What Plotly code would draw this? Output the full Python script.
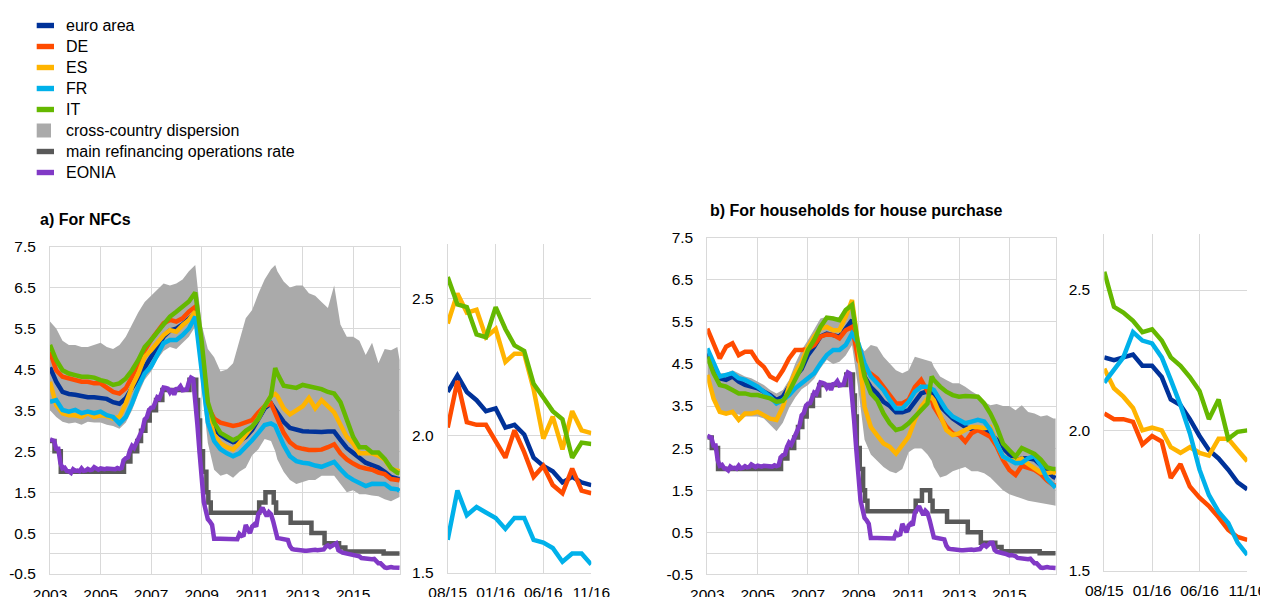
import plotly.graph_objects as go

W, H = 1268, 597
OFF = 8                    # the page body adds an 8 px margin around the figure
FW, FH = W - OFF, H - OFF  # figure size so that it fills the window exactly

# ---------------- data ----------------
# main panels: quarterly observations (Jan/Apr/Jul/Oct) plus Dec-2011 and Nov-2016
main_dates = []
for yr in range(2003, 2017):
    for mo in (1, 4, 7, 10):
        main_dates.append(f"{yr}-{mo:02d}-01")
        if yr == 2011 and mo == 10:
            main_dates.append("2011-12-01")
main_dates.append("2016-11-01")

# a) NFCs
ea_a = [4.55, 4.2, 3.95, 3.9,  3.88, 3.85, 3.82, 3.82,  3.8, 3.78, 3.7, 3.66,
        3.8, 4.05, 4.3, 4.55,  4.8, 5.05, 5.3, 5.45,  5.5, 5.6, 5.75, 5.88,
        4.8, 3.5, 3.05, 2.9,  2.8, 2.72, 2.75, 2.85,  3.02, 3.3, 3.55, 3.67, 3.52,
        3.45, 3.22, 3.07, 3.02,  2.99, 2.98, 2.97, 2.97,  2.98, 2.98, 2.78, 2.58,
        2.46, 2.35, 2.22, 2.16,  2.10, 2.0, 1.87, 1.83, 1.82]
de_a = [4.93, 4.48, 4.32, 4.28,  4.24, 4.2, 4.2, 4.16,  4.16, 4.04, 3.95, 3.91,
        4.04, 4.32, 4.65, 4.97,  5.22, 5.42, 5.63, 5.71,  5.67, 5.75, 5.91, 6.03,
        5.0, 3.6, 3.3, 3.2,  3.15, 3.12, 3.15, 3.2,  3.26, 3.45, 3.6, 3.67, 3.43,
        3.3, 2.95, 2.72, 2.6,  2.56, 2.53, 2.53, 2.54,  2.6, 2.67, 2.45, 2.3,
        2.2, 2.12, 2.08, 2.05,  1.98, 1.94, 1.82, 1.80, 1.79]
es_a = [4.2, 3.63, 3.43, 3.38,  3.38, 3.34, 3.43, 3.34,  3.38, 3.36, 3.3, 3.34,
        3.67, 4.08, 4.4, 4.81,  4.97, 5.14, 5.34, 5.46,  5.42, 5.58, 5.71, 5.91,
        4.7, 3.45, 2.9, 2.7,  2.6, 2.54, 2.7, 2.9,  3.07, 3.3, 3.6, 3.85, 3.9,
        3.85, 3.55, 3.4, 3.5,  3.6, 3.8, 3.55, 3.75,  3.6, 3.45, 3.15, 2.85,
        2.69, 2.45, 2.45, 2.45,  2.39, 2.30, 2.07, 2.02, 2.01]
fr_a = [3.71, 3.75, 3.51, 3.47,  3.51, 3.43, 3.47, 3.43,  3.47, 3.38, 3.34, 3.18,
        3.34, 3.67, 4.08, 4.4,  4.57, 4.85, 5.14, 5.22,  5.22, 5.34, 5.5, 5.79,
        4.5, 3.2, 2.75, 2.55,  2.45, 2.38, 2.45, 2.6,  2.77, 2.95, 3.14, 3.18, 3.12,
        3.0, 2.65, 2.38, 2.26,  2.22, 2.2, 2.15, 2.12,  2.18, 2.24, 2.06, 1.9,
        1.8, 1.72, 1.65, 1.705,  1.70, 1.70, 1.59, 1.57, 1.53]
it_a = [5.1, 4.73, 4.48, 4.4,  4.36, 4.32, 4.32, 4.3,  4.24, 4.2, 4.12, 4.16,
        4.28, 4.48, 4.73, 5.05,  5.22, 5.42, 5.63, 5.79,  5.91, 6.03, 6.16, 6.38,
        5.2, 3.7, 3.2, 2.95,  2.85, 2.77, 2.85, 3.0,  3.1, 3.3, 3.6, 3.85, 4.53,
        4.4, 4.1, 4.08, 4.05,  4.12, 4.09, 4.07, 4.02,  3.95, 3.91, 3.7, 3.25,
        2.85, 2.6, 2.6, 2.47,  2.47, 2.31, 2.09, 1.975, 1.97]
disp_hi_a = [5.67, 5.5, 5.2, 5.1,  5.1, 5.05, 5.05, 5.1,  5.15, 5.05, 5.0, 5.1,
             5.3, 5.6, 5.9, 6.15,  6.3, 6.45, 6.6, 6.55,  6.6, 6.7, 6.9, 7.05,
             5.6, 5.0, 4.8, 4.45,  4.5, 4.65, 5.2, 5.75,  5.95, 6.35, 6.7, 6.95, 7.05,
             6.9, 6.65, 6.5, 6.55,  6.55, 6.36, 6.3, 6.15,  6.0, 6.55, 5.6, 5.3,
             5.3, 5.2, 4.85, 5.15,  4.65, 5.0, 4.97, 5.05, 4.73]
disp_lo_a = [3.5, 3.34, 3.22, 3.18,  3.2, 3.15, 3.22, 3.2,  3.2, 3.15, 3.12, 3.05,
             3.2, 3.5, 3.9, 4.25,  4.45, 4.75, 4.95, 5.05,  5.0, 5.15, 5.3, 5.55,
             4.2, 2.7, 2.05, 1.9,  1.95, 1.85, 2.0, 2.1,  2.4, 2.55, 2.8, 2.75, 2.5,
             2.3, 2.0, 1.8, 1.7,  1.75, 1.8, 1.8, 1.9,  1.9, 1.9, 1.7, 1.5,
             1.55, 1.45, 1.45, 1.42,  1.4, 1.33, 1.28, 1.35, 1.38]

# b) households for house purchase
ea_b = [4.75, 4.43, 4.16, 4.12,  4.2, 4.08, 4.0, 3.96,  3.92, 3.84, 3.76, 3.64,
        3.72, 3.96, 4.2, 4.38,  4.71, 4.91, 5.15, 5.22,  5.19, 5.15, 5.34, 5.54,
        4.8, 4.2, 3.95, 3.8,  3.6, 3.5, 3.35, 3.35,  3.4, 3.6, 3.8, 3.85, 3.8,
        3.7, 3.5, 3.35, 3.2,  3.1, 3.0, 2.95, 2.95,  2.95, 2.85, 2.7, 2.5,
        2.35, 2.2, 2.25, 2.26,  2.23, 2.09, 1.93, 1.815, 1.79]
de_b = [5.34, 4.95, 4.63, 4.91,  4.99, 4.71, 4.79, 4.79,  4.56, 4.43, 4.2, 4.12,
        4.35, 4.63, 4.83, 4.83,  4.85, 4.95, 5.15, 5.2,  5.19, 5.11, 5.3, 5.38,
        4.59, 4.35, 4.27, 4.15,  3.95, 3.76, 3.56, 3.56,  3.65, 3.95, 4.12, 3.85, 3.65,
        3.48, 3.25, 3.01, 2.85,  2.81, 2.65, 2.85, 2.93,  2.85, 2.77, 2.54, 2.22,
        1.98, 1.86, 2.08, 2.04,  1.98, 1.88, 1.73, 1.62, 1.61]
es_b = [4.24, 3.68, 3.36, 3.32,  3.36, 3.17, 3.32, 3.32,  3.36, 3.28, 3.2, 3.17,
        3.48, 3.96, 4.3, 4.55,  4.91, 5.15, 5.34, 5.38,  5.3, 5.3, 5.62, 6.02,
        4.91, 3.48, 3.0, 2.8,  2.61, 2.53, 2.37, 2.57,  2.77, 3.17, 3.48, 3.68, 3.7,
        3.64, 3.25, 2.93, 2.81,  2.85, 2.93, 3.0, 3.0,  2.97, 3.0, 2.61, 2.3,
        2.22, 2.2, 2.25, 2.12,  2.01, 1.92, 1.91, 1.93, 1.89]
fr_b = [4.87, 4.55, 4.2, 4.24,  4.28, 4.16, 4.12, 4.04,  3.96, 3.84, 3.72, 3.56,
        3.64, 3.76, 3.92, 4.04,  4.16, 4.28, 4.51, 4.71,  4.83, 4.83, 4.95, 5.22,
        4.99, 4.51, 4.2, 4.04,  3.88, 3.64, 3.44, 3.44,  3.6, 3.84, 3.96, 3.96, 3.92,
        3.88, 3.64, 3.4, 3.25,  3.17, 3.09, 3.13, 3.17,  3.13, 2.93, 2.61, 2.3,
        2.22, 2.14, 2.15, 2.26,  2.31, 2.09, 1.77, 1.6, 1.56]
it_b = [4.67, 4.28, 4.0, 3.96,  3.88, 3.8, 3.8, 3.76,  3.76, 3.72, 3.68, 3.6,
        3.62, 3.84, 4.16, 4.43,  4.83, 5.07, 5.38, 5.6,  5.58, 5.54, 5.78, 5.9,
        4.91, 4.2, 3.8, 3.64,  3.32, 3.09, 2.93, 2.97,  3.09, 3.25, 3.4, 3.56, 4.2,
        4.12, 3.96, 3.84, 3.76,  3.72, 3.74, 3.72, 3.72,  3.56, 3.32, 3.01, 2.61,
        2.45, 2.3, 2.5, 2.42,  2.36, 2.23, 2.04, 2.0, 2.0]
disp_hi_b = [4.75, 4.51, 4.28, 4.28,  4.35, 4.28, 4.2, 4.16,  4.08, 4.0, 3.88, 3.8,
             3.88, 4.12, 4.51, 4.83,  5.07, 5.31, 5.58, 5.62,  5.62, 5.6, 5.78, 6.02,
             4.99, 4.8, 4.95, 4.91,  4.67, 4.51, 4.35, 4.28,  4.35, 4.67, 4.63, 4.59, 4.55,
             4.43, 4.2, 4.12, 4.04,  4.04, 3.96, 3.85, 3.76,  3.6, 3.52, 3.55, 3.5,
             3.5, 3.4, 3.52, 3.36,  3.32, 3.25, 3.28, 3.2, 3.2]
disp_lo_b = [4.1, 3.7, 3.4, 3.3,  3.3, 3.3, 3.25, 3.25,  3.25, 3.2, 3.05, 2.9,
             3.1, 3.45, 3.7, 3.9,  4.0, 4.15, 4.4, 4.6,  4.5, 4.55, 4.7, 4.95,
             3.9, 2.7, 2.35, 2.2,  2.05, 1.95, 1.9, 2.0,  2.4, 2.5, 2.5, 2.35, 2.2,
             2.05, 1.8, 1.85, 1.95,  2.0, 2.05, 1.95, 1.95,  1.9, 1.8, 1.65, 1.5,
             1.4, 1.35, 1.3, 1.25,  1.22, 1.2, 1.17, 1.14, 1.13]

# main refinancing operations rate (date of change, new level)
mro_dates = ["2003-01-01", "2003-03-07", "2003-06-06", "2005-12-06", "2006-03-08",
             "2006-06-15", "2006-08-09", "2006-10-11", "2006-12-13", "2007-03-14",
             "2007-06-13", "2008-07-09", "2008-10-15", "2008-11-12", "2008-12-10",
             "2009-01-21", "2009-03-11", "2009-04-08", "2009-05-13", "2011-04-13",
             "2011-07-13", "2011-11-09", "2011-12-14", "2012-07-11", "2013-05-08",
             "2013-11-13", "2014-06-11", "2014-09-10", "2016-03-16", "2016-11-01"]
mro_rate = [2.75, 2.5, 2.0, 2.25, 2.5, 2.75, 3.0, 3.25, 3.5, 3.75,
            4.0, 4.25, 3.75, 3.25, 2.5, 2.0, 1.5, 1.25, 1.0, 1.25,
            1.5, 1.25, 1.0, 0.75, 0.5, 0.25, 0.15, 0.05, 0.0, 0.0]

# EONIA, monthly Jan-2003 .. Nov-2016
eonia_dates = [f"{yr}-{mo:02d}-01" for yr in range(2003, 2017) for mo in range(1, 13)][:167]
eonia = [2.79, 2.76, 2.75, 2.56, 2.56, 2.21, 2.08, 2.10, 2.02, 2.01, 1.97, 2.06,
         2.02, 2.03, 2.01, 2.08, 2.02, 2.03, 2.07, 2.04, 2.05, 2.11, 2.09, 2.05,
         2.08, 2.06, 2.06, 2.08, 2.07, 2.06, 2.07, 2.06, 2.09, 2.07, 2.09, 2.28,
         2.33, 2.35, 2.52, 2.63, 2.58, 2.70, 2.81, 2.97, 3.04, 3.28, 3.33, 3.50,
         3.56, 3.57, 3.69, 3.82, 3.79, 3.96, 4.06, 4.05, 4.03, 3.94, 4.02, 3.88,
         4.02, 4.03, 4.09, 3.99, 4.01, 4.01, 4.19, 4.30, 4.27, 3.82, 3.15, 2.49,
         1.81, 1.26, 1.06, 0.84, 0.78, 0.70, 0.36, 0.35, 0.36, 0.36, 0.36, 0.35,
         0.34, 0.34, 0.35, 0.35, 0.34, 0.35, 0.48, 0.43, 0.45, 0.70, 0.59, 0.50,
         0.66, 0.71, 0.66, 0.97, 1.03, 1.12, 1.01, 0.91, 1.01, 0.96, 0.79, 0.63,
         0.38, 0.37, 0.36, 0.35, 0.34, 0.33, 0.18, 0.11, 0.10, 0.09, 0.08, 0.07,
         0.07, 0.07, 0.07, 0.08, 0.08, 0.09, 0.09, 0.08, 0.08, 0.09, 0.10, 0.17,
         0.20, 0.16, 0.19, 0.25, 0.25, 0.08, 0.04, 0.02, 0.01, 0.00, -0.01, -0.03,
         -0.05, -0.04, -0.05, -0.07, -0.11, -0.12, -0.12, -0.12, -0.14, -0.14, -0.13, -0.20,
         -0.24, -0.24, -0.29, -0.34, -0.35, -0.33, -0.33, -0.34, -0.34, -0.35, -0.35]

# zoomed panels: monthly Aug-2015 .. Nov-2016
zoom_dates = [f"{yr}-{mo:02d}-01" for yr, mo in
              [(2015, 8), (2015, 9), (2015, 10), (2015, 11), (2015, 12)] +
              [(2016, m) for m in range(1, 12)]]
zoom_ticks = ["2015-08-01", "2016-01-01", "2016-06-01", "2016-11-01"]
zoom_ticktext = ["08/15", "01/16", "06/16", "11/16"]

ea_za = [2.16, 2.22, 2.16, 2.13, 2.09, 2.10, 2.03, 2.04, 2.005, 1.92, 1.89, 1.87, 1.83, 1.85, 1.83, 1.82]
de_za = [2.03, 2.20, 2.05, 2.04, 2.04, 1.98, 1.92, 2.02, 1.94, 1.85, 1.89, 1.82, 1.79, 1.88, 1.80, 1.79]
es_za = [2.41, 2.52, 2.45, 2.46, 2.36, 2.39, 2.27, 2.30, 2.30, 2.17, 1.99, 2.07, 1.95, 2.09, 2.02, 2.01]
fr_za = [1.62, 1.80, 1.71, 1.74, 1.72, 1.70, 1.66, 1.70, 1.70, 1.62, 1.61, 1.59, 1.54, 1.57, 1.57, 1.53]
it_za = [2.58, 2.48, 2.47, 2.37, 2.36, 2.47, 2.39, 2.33, 2.31, 2.19, 2.14, 2.09, 2.06, 1.92, 1.975, 1.97]

ea_zb = [2.26, 2.25, 2.26, 2.27, 2.23, 2.23, 2.19, 2.11, 2.09, 2.04, 1.98, 1.93, 1.90, 1.86, 1.815, 1.79]
de_zb = [2.06, 2.04, 2.04, 2.03, 1.95, 1.98, 1.96, 1.83, 1.88, 1.80, 1.76, 1.73, 1.69, 1.645, 1.62, 1.61]
es_zb = [2.22, 2.15, 2.12, 2.08, 2.00, 2.01, 2.00, 1.94, 1.92, 1.94, 1.92, 1.91, 1.97, 1.97, 1.93, 1.89]
fr_zb = [2.17, 2.215, 2.26, 2.35, 2.32, 2.31, 2.26, 2.18, 2.09, 1.99, 1.86, 1.77, 1.71, 1.67, 1.60, 1.556]
it_zb = [2.565, 2.44, 2.42, 2.39, 2.35, 2.36, 2.32, 2.26, 2.23, 2.19, 2.14, 2.04, 2.11, 1.97, 1.995, 2.0]

series_names = ["euro area", "DE", "ES", "FR", "IT"]
series_colors = ["#003299", "#FF4B00", "#FFB400", "#00B1EA", "#65B800"]
band_color = "#AAAAAA"
mro_color = "#595959"
eonia_color = "#8139C6"

main_y_ticks = [-0.5, 0.5, 1.5, 2.5, 3.5, 4.5, 5.5, 6.5, 7.5]
zoom_y_ticks = [1.5, 2.0, 2.5]

legend_labels = ["euro area", "DE", "ES", "FR", "IT", "cross-country dispersion",
                 "main refinancing operations rate", "EONIA"]
legend_colors = series_colors + [band_color, mro_color, eonia_color]

# ---------------- figure ----------------
FONT = "Arial, 'Liberation Sans', sans-serif"
GRID = "#D9D9D9"
LW = 4.5


def px(x):
    """window pixel x -> paper coordinate"""
    return (x - OFF) / FW


def py(y):
    """window pixel y (from top) -> paper coordinate"""
    return 1 - (y - OFF) / FH


fig = go.Figure()

panels = [
    dict(ax="", series=[ea_a, de_a, es_a, fr_a, it_a], hi=disp_hi_a, lo=disp_lo_a,
         zoom=[ea_za, de_za, es_za, fr_za, it_za]),
    dict(ax="3", series=[ea_b, de_b, es_b, fr_b, it_b], hi=disp_hi_b, lo=disp_lo_b,
         zoom=[ea_zb, de_zb, es_zb, fr_zb, it_zb]),
]
zoom_ax = {"": "2", "3": "4"}

for p in panels:
    xa, ya = "x" + p["ax"], "y" + p["ax"]
    fig.add_trace(go.Scatter(
        x=main_dates + main_dates[::-1], y=p["hi"] + p["lo"][::-1],
        fill="toself", fillcolor=band_color, line=dict(width=0), mode="lines",
        hoverinfo="skip", showlegend=False, xaxis=xa, yaxis=ya))
    fig.add_trace(go.Scatter(x=mro_dates, y=mro_rate, mode="lines", line_shape="hv",
                             line=dict(color=mro_color, width=LW), showlegend=False,
                             xaxis=xa, yaxis=ya))
    fig.add_trace(go.Scatter(x=eonia_dates, y=eonia, mode="lines",
                             line=dict(color=eonia_color, width=LW), showlegend=False,
                             xaxis=xa, yaxis=ya))
    for name, col, vals in zip(series_names, series_colors, p["series"]):
        fig.add_trace(go.Scatter(x=main_dates, y=vals, mode="lines", name=name,
                                 line=dict(color=col, width=LW), showlegend=False,
                                 xaxis=xa, yaxis=ya))
    zx, zy = "x" + zoom_ax[p["ax"]], "y" + zoom_ax[p["ax"]]
    for name, col, vals in zip(series_names, series_colors, p["zoom"]):
        fig.add_trace(go.Scatter(x=zoom_dates, y=vals, mode="lines", name=name,
                                 line=dict(color=col, width=LW), showlegend=False,
                                 xaxis=zx, yaxis=zy))

tickfont = dict(family=FONT, size=15.5, color="#000000")

common_x = dict(showgrid=True, gridcolor=GRID, gridwidth=1, ticks="", tickfont=tickfont,
                zeroline=False, fixedrange=True, ticklabelstandoff=6, automargin=False)
common_y = dict(showgrid=True, gridcolor=GRID, gridwidth=1, ticks="", tickfont=tickfont,
                fixedrange=True, ticklabelstandoff=10, automargin=False)

main_x = dict(common_x, type="date", range=["2003-01-01", "2016-11-08"],
              tickmode="linear", tick0="2003-01-01", dtick="M24", tickformat="%Y",
              showline=True, linecolor=GRID, mirror=True)
main_y = dict(common_y, range=[-0.5, 7.5], tickmode="array", tickvals=main_y_ticks,
              ticktext=[f"{v:.1f}" for v in main_y_ticks],
              zeroline=True, zerolinecolor=GRID, zerolinewidth=1,
              showline=True, linecolor=GRID, mirror=True)
zoom_x = dict(common_x, type="date", range=["2015-08-01", "2016-11-01"],
              tickmode="array", tickvals=zoom_ticks, ticktext=zoom_ticktext,
              showline=True, linecolor=GRID)
zoom_y = dict(common_y, range=[1.5, 2.7], tickmode="array", tickvals=zoom_y_ticks,
              ticktext=[f"{v:.1f}" for v in zoom_y_ticks], zeroline=False,
              showline=True, linecolor=GRID)

fig.update_layout(
    width=FW, height=FH, autosize=False,
    margin=dict(l=0, r=0, t=0, b=0, pad=0, autoexpand=False),
    paper_bgcolor="white", plot_bgcolor="white",
    font=dict(family=FONT, size=16, color="#000000"),
    showlegend=False,
    xaxis=dict(main_x, domain=[px(50), px(400)], anchor="y"),
    yaxis=dict(main_y, domain=[py(574), py(246.7)], anchor="x"),
    xaxis2=dict(zoom_x, domain=[px(447.7), px(591.3)], anchor="y2"),
    yaxis2=dict(zoom_y, domain=[py(572.7), py(244.1)], anchor="x2"),
    xaxis3=dict(main_x, domain=[px(707.3), px(1056)], anchor="y3"),
    yaxis3=dict(main_y, domain=[py(574.3), py(237.7)], anchor="x3"),
    xaxis4=dict(zoom_x, domain=[px(1104.3), px(1247.3)], anchor="y4"),
    yaxis4=dict(zoom_y, domain=[py(570.7), py(233.9)], anchor="x4"),
)

# panel titles
fig.add_annotation(text="<b>a) For NFCs</b>", x=px(37.7), y=py(219.3), xref="paper", yref="paper",
                   xanchor="left", yanchor="middle", showarrow=False,
                   font=dict(family=FONT, size=16, color="#000000"))
fig.add_annotation(text="<b>b) For households for house purchase</b>", x=px(708.3), y=py(210),
                   xref="paper", yref="paper", xanchor="left", yanchor="middle", showarrow=False,
                   font=dict(family=FONT, size=16, color="#000000"))

# legend (drawn as swatches + text)
for i, (lab, col) in enumerate(zip(legend_labels, legend_colors)):
    cy = 25.5 + 21 * i
    if lab == "cross-country dispersion":
        fig.add_shape(type="rect", xref="paper", yref="paper", x0=px(36.7), x1=px(51),
                      y0=py(cy + 7), y1=py(cy - 7), fillcolor=col, line=dict(width=0))
    else:
        fig.add_shape(type="rect", xref="paper", yref="paper", x0=px(36.7), x1=px(54),
                      y0=py(cy + 2.7), y1=py(cy - 2.7), fillcolor=col, line=dict(width=0))
    fig.add_annotation(text=lab, x=px(64.3), y=py(cy), xref="paper", yref="paper",
                       xanchor="left", yanchor="middle", showarrow=False,
                       font=dict(family=FONT, size=16, color="#000000"))

fig.write_html("out.html")
